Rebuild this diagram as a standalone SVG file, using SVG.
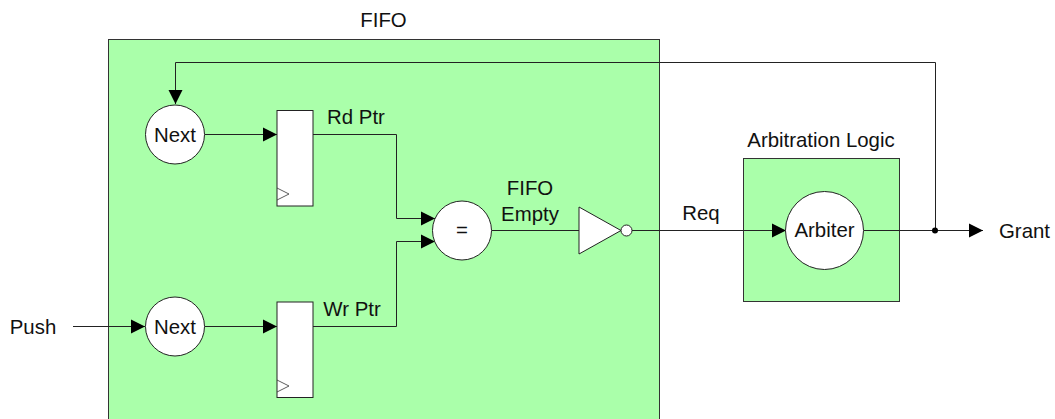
<svg xmlns="http://www.w3.org/2000/svg" width="1055" height="419" viewBox="0 0 1055 419">
<style>
text{font-family:"Liberation Sans",Arial,sans-serif;font-size:20.4px;fill:#111;text-anchor:middle}
.box{fill:#aaffaa;stroke:#333;stroke-width:1}
.node{fill:#fff;stroke:#222;stroke-width:1}
.reg{fill:#fff;stroke:#222;stroke-width:1}
.clk{fill:none;stroke:#333;stroke-width:.8}
.wire{fill:none;stroke:#222;stroke-width:1;marker-end:url(#arr)}
.plain{fill:none;stroke:#222;stroke-width:1}
</style>
<defs>
<marker id="arr" markerUnits="userSpaceOnUse" markerWidth="15" markerHeight="15" refX="14" refY="7.500" orient="auto"><path d="M0,0.500L14,7.500L0,14.500Z" fill="#000"/></marker>
</defs>
<rect width="1055" height="419" fill="#fff"/>
<g id="fifo"><rect class="box" x="108.500" y="39.500" width="551" height="390"/><text x="383.500" y="27">FIFO</text></g>
<g id="arbitration-logic"><rect class="box" x="743.500" y="158.500" width="156" height="143"/><text x="821" y="147">Arbitration Logic</text></g>
<g id="connectors">
<path class="wire" d="M73,326.500H145"/>
<path class="wire" d="M205,134.500H277"/>
<path class="wire" d="M205,326.500H277"/>
<path class="wire" d="M313,134.500H396.500V218.500H435"/>
<path class="wire" d="M313,326.500H396.500V241.500H435"/>
<path class="plain" d="M492,230.500H579"/>
<path class="wire" d="M632,230.500H786"/>
<path class="wire" d="M864,230.500H983"/>
<path class="wire" d="M935.500,230.500V62.500H175.500V104"/>
<circle cx="935" cy="230.500" r="3" fill="#000"/>
</g>
<g id="next-top"><circle class="node" cx="175" cy="134.500" r="29.500"/><text x="175" y="142">Next</text></g>
<g id="next-bottom"><circle class="node" cx="175" cy="326.500" r="29.500"/><text x="175" y="334">Next</text></g>
<g id="rd-ptr"><rect class="reg" x="277" y="110.500" width="36" height="95.500"/><path class="clk" d="M277,188L289,194L277,200"/><text x="356" y="124">Rd Ptr</text></g>
<g id="wr-ptr"><rect class="reg" x="277" y="302" width="36" height="95.500"/><path class="clk" d="M277,380L289,386L277,392"/><text x="352" y="316">Wr Ptr</text></g>
<g id="equal"><circle class="node" cx="462" cy="230.500" r="29.500"/><text x="462" y="237">=</text></g>
<g id="inverter"><path class="node" d="M579,207L621,230.500L579,254Z"/><circle class="node" cx="626.500" cy="230.500" r="5.500"/></g>
<g id="arbiter"><circle class="node" cx="824.500" cy="230.500" r="39"/><text x="824.500" y="237">Arbiter</text></g>
<text x="530" y="195">FIFO</text>
<text x="530" y="221">Empty</text>
<text x="701" y="220">Req</text>
<text x="33" y="334">Push</text>
<text x="1024.500" y="238">Grant</text>
</svg>
